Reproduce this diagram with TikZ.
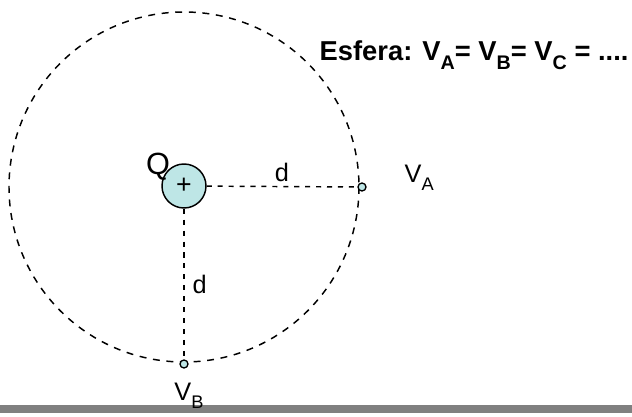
\documentclass[tikz,border=0pt]{standalone}
\usepackage{fontspec}
\setmainfont{Liberation Sans}
\usetikzlibrary{positioning}
\definecolor{ChargeCyan}{RGB}{190, 230, 230}
\definecolor{BarGray}{RGB}{128, 128, 128}
\newcommand{\lowsub}[1]{\raisebox{-0.6ex}{\scalebox{0.72}{#1}}}

\begin{document}
\begin{tikzpicture}[
    x=0.75pt, y=-0.75pt,
    guide/.style={line width=1.1pt, dash pattern=on 3.8pt off 4.4pt},
    shell/.style={line width=1.1pt, dash pattern=on 5.2pt off 5pt},
    charge/.style={circle, draw, fill=ChargeCyan, line width=1.1pt, minimum size=33pt, inner sep=0pt},
    point/.style={circle, draw, fill=ChargeCyan, line width=1pt, minimum size=6pt, inner sep=0pt},
    lbl/.style={font=\fontsize{19}{21}\selectfont, inner sep=1pt}
  ]
    \useasboundingbox (0,0) rectangle (632,417);

    % Bottom bar
    \fill[BarGray] (0,405) rectangle (632,413);

    % Sphere
    \draw[shell] (184,187) circle[radius=175];

    % Charge
    \node[charge, font=\fontsize{20}{22}\selectfont] (Q) at (184,186) {+};
    \node[font=\fontsize{23}{25}\selectfont] (qname) at (158,167) {Q};

    % Points on the sphere
    \node[point] (A) at (362,187) {};
    \node[point] (B) at (184,364) {};

    % Distances
    \draw[guide] (Q) -- node[lbl, above=2pt] {d} (A);
    \draw[guide] (Q) -- node[lbl, right=5pt] {d} (B);

    % Potentials
    \node[lbl, anchor=west] (VA) at (403,178) {V\lowsub{A}};
    \node[lbl] (VB) at (189,396) {V\lowsub{B}};

    % Title
    \node[anchor=west, font=\bfseries\fontsize{20.5}{22}\selectfont] (title) at (315,55)
      {Esfera: V\lowsub{A}= V\lowsub{B}= V\lowsub{C} = ....};
  \end{tikzpicture}
\end{document}
